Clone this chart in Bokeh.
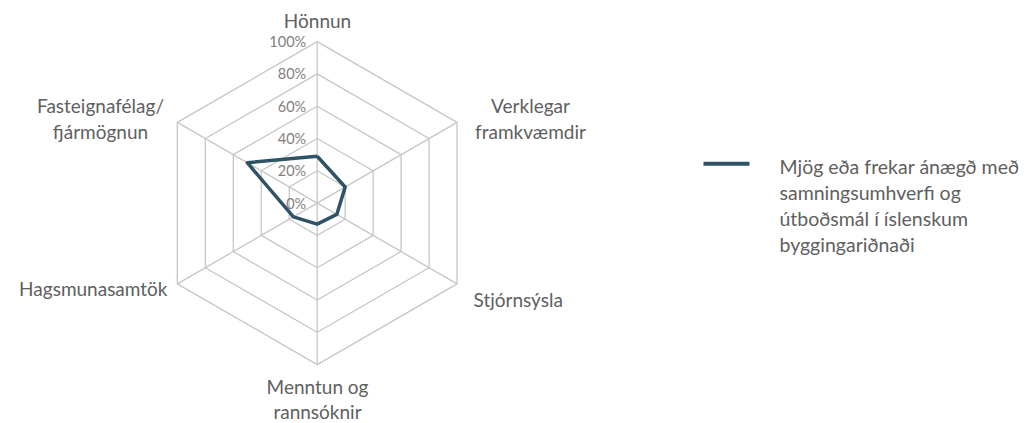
import numpy as np
from bokeh.plotting import figure
from bokeh.models import Range1d
from bokeh.core.properties import value
from bokeh.embed import file_html
from bokeh.resources import INLINE

# ---- data ----
categories = ["Hönnun", "Verklegar framkvæmdir", "Stjórnsýsla",
              "Menntun og rannsóknir", "Hagsmunasamtök", "Fasteignafélag/fjármögnun"]
category_lines = [["Hönnun"], ["Verklegar", "framkvæmdir"], ["Stjórnsýsla"],
                  ["Menntun og", "rannsóknir"], ["Hagsmunasamtök"], ["Fasteignafélag/", "fjármögnun"]]
values = [0.29, 0.20, 0.14, 0.13, 0.17, 0.50]
ticks = [0.0, 0.2, 0.4, 0.6, 0.8, 1.0]
tick_labels = ["0%", "20%", "40%", "60%", "80%", "100%"]
legend_lines = ["Mjög eða frekar ánægð með", "samningsumhverfi og",
                "útboðsmál í íslenskum", "byggingariðnaði"]

# ---- layout ----
W, H = 1035, 423
CX, CY = 316.7, 202.6      # page px of chart centre
S = 161.5                  # px per unit radius
FONT = "Lato"
LINE_COLOR = "#2E5366"
GRID_COLOR = "#C6C6C6"
TEXT_COLOR = "#606060"
TICK_COLOR = "#808080"


def px(X, Y):
    return (X - CX) / S, (CY - Y) / S


x0 = (0 - CX) / S
y1 = (CY - 0) / S
p = figure(width=W, height=H, output_backend="svg", toolbar_location=None,
           x_range=Range1d(x0, x0 + W / S), y_range=Range1d(y1 - H / S, y1),
           min_border=0, outline_line_color=None)
p.axis.visible = False
p.grid.visible = False
p.background_fill_color = "white"
p.border_fill_color = "white"

n = len(categories)
ang = np.pi / 2 - np.arange(n) * 2 * np.pi / n
cs, sn = np.cos(ang), np.sin(ang)

# grid hexagons
for t in ticks[1:]:
    p.line(list(t * cs) + [t * cs[0]], list(t * sn) + [t * sn[0]],
           line_color=GRID_COLOR, line_width=1.3)
# spokes
for i in range(n):
    p.line([0, cs[i]], [0, sn[i]], line_color=GRID_COLOR, line_width=1.3)

# tick labels
p.text(x=[-11 / S] * len(ticks), y=ticks, text=tick_labels,
       text_align="right", text_baseline="middle", text_font=value(FONT),
       text_font_size="14.5px", text_color=TICK_COLOR)

# series
v = np.array(values)
p.line(list(v * cs) + [v[0] * cs[0]], list(v * sn) + [v[0] * sn[0]],
       line_color=LINE_COLOR, line_width=3.5, line_join="round")

# category labels (page px anchors)
label_pos = [
    (317, [19.5], "center"),
    (530, [105, 130.5], "center"),
    (473, [299], "left"),
    (317, [386, 410.5], "center"),
    (167, [287.5], "right"),
    (100, [105, 130.5], "center"),
]
for lines, (X, Ys, al) in zip(category_lines, label_pos):
    for txt, Y in zip(lines, Ys):
        x, y = px(X, Y)
        p.text(x=[x], y=[y], text=[txt], text_align=al, text_baseline="middle",
               text_font=value(FONT), text_font_size="19px", text_color=TEXT_COLOR)

# legend
lx0, ly = px(703, 163.3)
lx1, _ = px(749, 163.3)
p.line([lx0, lx1], [ly, ly], line_color=LINE_COLOR, line_width=4)
for k, txt in enumerate(legend_lines):
    x, y = px(779, 166 + 26 * k)
    p.text(x=[x], y=[y], text=[txt], text_align="left", text_baseline="middle",
           text_font=value(FONT), text_font_size="19.5px", text_color=TEXT_COLOR)

open("out.html", "w").write(file_html(p, INLINE))
